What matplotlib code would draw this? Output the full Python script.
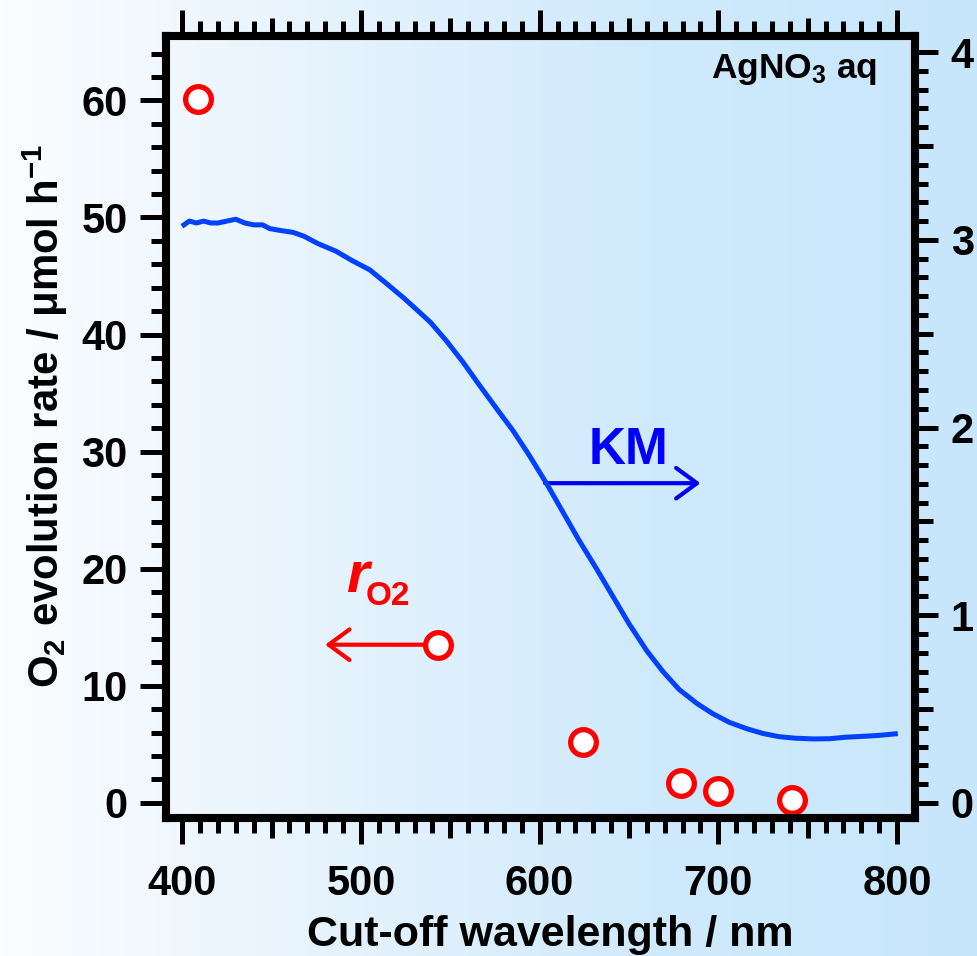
import numpy as np
import matplotlib
matplotlib.use("Agg")
import matplotlib.pyplot as plt
from matplotlib.colors import LinearSegmentedColormap
from matplotlib.ticker import FixedLocator

# O2 evolution rate (left axis) vs cut-off wavelength
cutoff_nm = [409, 543, 624, 679, 700, 741]
o2_rate = [60.1, 13.5, 5.2, 1.7, 1.0, 0.25]

# Kubelka-Munk spectrum (right axis)
km_wl = [401, 404, 408, 412, 416, 420, 425, 430, 435, 440, 445, 449, 455,
         462, 468, 476, 486, 495, 505, 514, 524, 531, 539, 548, 557, 566,
         576, 585, 594, 604, 613, 622, 632, 641, 650, 660, 669, 678, 688,
         697, 706, 716, 725, 734, 743, 753, 762, 771, 781, 790, 799]
km_val = [3.08, 3.10, 3.09, 3.10, 3.09, 3.09, 3.10, 3.11, 3.09, 3.08, 3.08, 3.06, 3.05,
          3.04, 3.02, 2.98, 2.94, 2.89, 2.84, 2.77, 2.69, 2.63, 2.56, 2.46, 2.35, 2.23,
          2.10, 1.985, 1.855, 1.70, 1.55, 1.40, 1.245, 1.10, 0.955, 0.81, 0.70, 0.605, 0.53,
          0.475, 0.43, 0.395, 0.37, 0.353, 0.345, 0.341, 0.342, 0.35, 0.355, 0.36, 0.368]

x_major = [400, 500, 600, 700, 800]
left_major = [0, 10, 20, 30, 40, 50, 60]
right_major = [0, 1, 2, 3, 4]

plt.rcParams['font.family'] = ['Liberation Sans', 'DejaVu Sans']
plt.rcParams['font.weight'] = 'bold'
plt.rcParams['axes.labelweight'] = 'bold'
plt.rcParams['mathtext.fontset'] = 'custom'
plt.rcParams['mathtext.rm'] = 'Liberation Sans:bold'
plt.rcParams['mathtext.bf'] = 'Liberation Sans:bold'
plt.rcParams['mathtext.it'] = 'Liberation Sans:bold:italic'
plt.rcParams['mathtext.default'] = 'bf'

fig = plt.figure(figsize=(9.77, 9.56), dpi=100)

# background gradient over the whole figure
bg = fig.add_axes([0, 0, 1, 1], zorder=0)
cmap = LinearSegmentedColormap.from_list('bg', ['#fbfdff', '#e6f3fd', '#cfeafc', '#c8e6fb'])
bg.imshow(np.linspace(0, 1, 256).reshape(1, -1), cmap=cmap, aspect='auto',
          extent=[0, 1, 0, 1])
bg.axis('off')

ax = fig.add_axes([0.170, 0.1444, 0.7665, 0.8179], zorder=1)
ax.patch.set_alpha(0)
ax2 = ax.twinx()

ax.set_xlim(391, 810)
ax.set_ylim(-1.3, 65.5)
ax2.set_ylim(-0.08, 4.086)

red = '#ff0000'
ax.annotate('', xy=(480, 13.5), xytext=(543, 13.5),
            arrowprops=dict(arrowstyle='->,head_length=0.75,head_width=0.55',
                            color=red, lw=3, shrinkA=0, shrinkB=0, mutation_scale=20),
            zorder=3)
ax.plot(cutoff_nm, o2_rate, 'o', ms=18.5, mew=3.8, mec=red, mfc='white', zorder=5,
        clip_on=False)

ax2.plot(km_wl, km_val, color='#0040ff', lw=3.6, zorder=4)
ax.annotate('', xy=(690, 27.3), xytext=(603, 27.3),
            arrowprops=dict(arrowstyle='->,head_length=0.75,head_width=0.55',
                            color='#0000f0', lw=3, shrinkA=0, shrinkB=0, mutation_scale=20),
            zorder=3)

ax.text(650, 28.9, 'KM', color='#0000ff', fontsize=37, ha='center', va='baseline')
ax.text(492, 18.0, 'r', color=red, fontsize=42, style='italic', ha='left', va='baseline')
ax.text(502.5, 16.9, 'O2', color=red, fontsize=24, ha='left', va='baseline')
ax.text(0.949, 0.946, 'AgNO$_3$ aq', transform=ax.transAxes, fontsize=25.5,
        ha='right', va='baseline')

# ticks
spine_w = 5.8
for a in (ax, ax2):
    for s in a.spines.values():
        s.set_linewidth(spine_w)

x_ticks = np.arange(400, 801, 50)
ax.set_xticks(x_ticks)
ax.set_xticklabels([str(v) if v in x_major else '' for v in x_ticks])
ax.xaxis.set_minor_locator(FixedLocator(np.arange(400, 801, 10)))
ax.set_yticks(left_major)
ax.yaxis.set_minor_locator(FixedLocator(np.arange(0, 65, 2)))

ax.tick_params(axis='x', which='major', direction='out', length=19, width=3.6,
               top=True, labelsize=30, pad=14)
ax.tick_params(axis='x', which='minor', direction='out', length=11, width=3.6, top=True)
ax.tick_params(axis='y', which='major', direction='out', length=18.6, width=3.6,
               right=False, labelsize=30, pad=9)
ax.tick_params(axis='y', which='minor', direction='out', length=10.6, width=3.6, right=False)

for t, v in zip(ax.xaxis.get_major_ticks(), x_ticks):
    if v not in x_major:
        t.tick1line.set_markersize(14.5)
        t.tick2line.set_markersize(13)

r_ticks = np.arange(0, 4.01, 0.5)
ax2.set_yticks(r_ticks)
ax2.set_yticklabels([f'{v:g}' if v in right_major else '' for v in r_ticks])
ax2.yaxis.set_minor_locator(FixedLocator(np.arange(0, 4.01, 0.1)))
ax2.tick_params(axis='y', which='major', direction='out', length=16.8, width=3.6,
                left=False, labelsize=30, pad=9)
ax2.tick_params(axis='y', which='minor', direction='out', length=9.5, width=3.6, left=False)
for t, v in zip(ax2.yaxis.get_major_ticks(), r_ticks):
    if v not in right_major:
        t.tick2line.set_markersize(13)

ax.set_xlabel('Cut-off wavelength / nm', fontsize=31, fontweight='bold', labelpad=8)
ax.xaxis.label.set_x(0.513)
ax.set_ylabel('O$_2$ evolution rate / μmol h$^{-1}$', fontsize=30.2, fontweight='bold',
              labelpad=8)
ax.yaxis.label.set_y(0.514)

fig.savefig('out.png', dpi=100)
